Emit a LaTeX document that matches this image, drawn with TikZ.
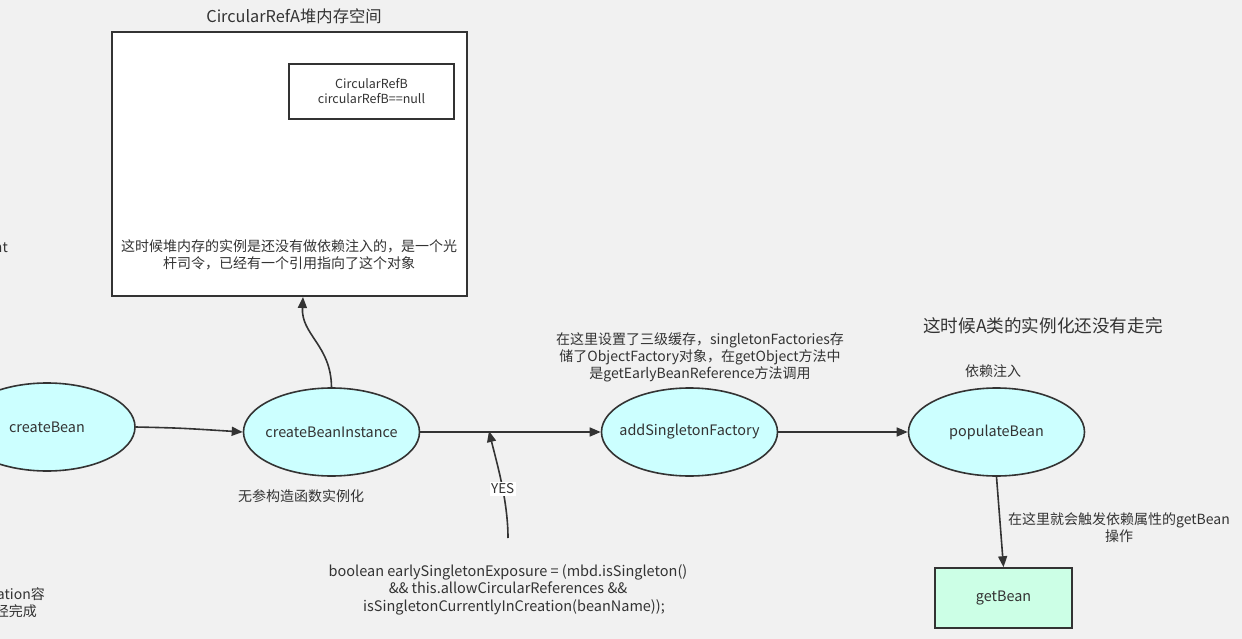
\documentclass[tikz,border=0pt]{standalone}
\usepackage{fontspec}
\setmainfont{Noto Sans CJK SC}
\usetikzlibrary{arrows.meta,shapes.geometric}
\definecolor{bg}{HTML}{F1F1F1}
\definecolor{ln}{HTML}{333333}
\definecolor{ellfill}{HTML}{CCFFFF}
\definecolor{boxfill}{HTML}{CCFFE6}
\definecolor{txt}{HTML}{333333}
\tikzset{
  ell/.style={ellipse,draw=ln,line width=1.6pt,fill=ellfill,minimum width=176pt,minimum height=88pt,inner xsep=-8pt,inner ysep=0pt,font=\fontsize{14.4}{16}\selectfont,text=txt},
  conn/.style={draw=ln,line width=1.6pt,-{Triangle[length=11pt,width=9pt]}},
  lbl/.style={font=\fontsize{14}{17}\selectfont,text=txt,align=center,inner sep=0pt},
}
\begin{document}
\begin{tikzpicture}[x=1pt,y=-1pt]
\useasboundingbox (0,0) rectangle (1242,639);
\clip (0,0) rectangle (1242,639);
\fill[bg] (0,0) rectangle (1242,639);
% heap box
\node[lbl,font=\fontsize{16.3}{19}\selectfont] (title) at (294,16) {CircularRefA堆内存空间};
\draw[ln,line width=1.6pt,fill=white] (112,32) rectangle (467,296);
\coordinate (heapbot) at (303,297);
\node[draw=ln,line width=1.6pt,fill=white,minimum width=165pt,minimum height=55pt,inner sep=0pt,align=center,font=\fontsize{12.5}{15}\selectfont,text=txt] (refb) at (371.5,91.5) {CircularRefB\\circularRefB==null};
\node[lbl] (heaptxt) at (289,254.5) {这时候堆内存的实例是还没有做依赖注入的，是一个光\\杆司令，已经有一个引用指向了这个对象};
% ellipses
\node[ell] (cb) at (47,427) {createBean};
\node[ell] (cbi) at (331.5,432) {createBeanInstance};
\node[ell] (asf) at (689.5,432) {addSingletonFactory};
\node[ell] (pb) at (996.5,432) {populateBean};
\node[draw=ln,line width=1.6pt,fill=boxfill,minimum width=137pt,minimum height=60pt,inner sep=0pt,font=\fontsize{14.4}{16}\selectfont,text=txt] (gb) at (1003.5,598) {getBean};
% labels
\node[lbl] (wcg) at (301,496) {无参构造函数实例化};
\node[lbl] (cache) at (700,357) {在这里设置了三级缓存，singletonFactories存\\储了ObjectFactory对象，在getObject方法中\\是getEarlyBeanReference方法调用};
\node[lbl,font=\fontsize{17.6}{20}\selectfont] (notdone) at (1043,326) {这时候A类的实例化还没有走完};
\node[lbl] (di) at (993,371) {依赖注入};
\node[lbl] (trig) at (1119,528) {在这里就会触发依赖属性的getBean\\操作};
\node[lbl,font=\fontsize{14.5}{17.5}\selectfont] (code) at (508,589.5) {boolean earlySingletonExposure = (mbd.isSingleton()\\\&\& this.allowCircularReferences \&\&\\\hspace{12pt}isSingletonCurrentlyInCreation(beanName));};
\node[lbl,anchor=east] (cut1) at (8,248) {nt};
\node[lbl,anchor=east] (cut2) at (45,594) {ation容};
\node[lbl,anchor=east] (cut3) at (37,611) {经完成};
% connectors
\coordinate (yesstart) at (508,538);
\coordinate (yesend) at (489,431);
\draw[conn] (cb.east) .. controls (180,428) .. (cbi.west);
\draw[conn] (cbi.north) .. controls (331,345) and (301,335) .. (heapbot);
\draw[conn] (cbi.east) -- (asf.west);
\draw[conn] (yesstart) .. controls (508,500) and (496,460) .. node[pos=0.43,fill=white,inner sep=1.5pt,font=\fontsize{13.5}{15}\selectfont,text=txt] {YES} (yesend);
\draw[conn] (asf.east) -- (pb.west);
\draw[conn] (pb.south) -- (gb.north);
\end{tikzpicture}
\end{document}
